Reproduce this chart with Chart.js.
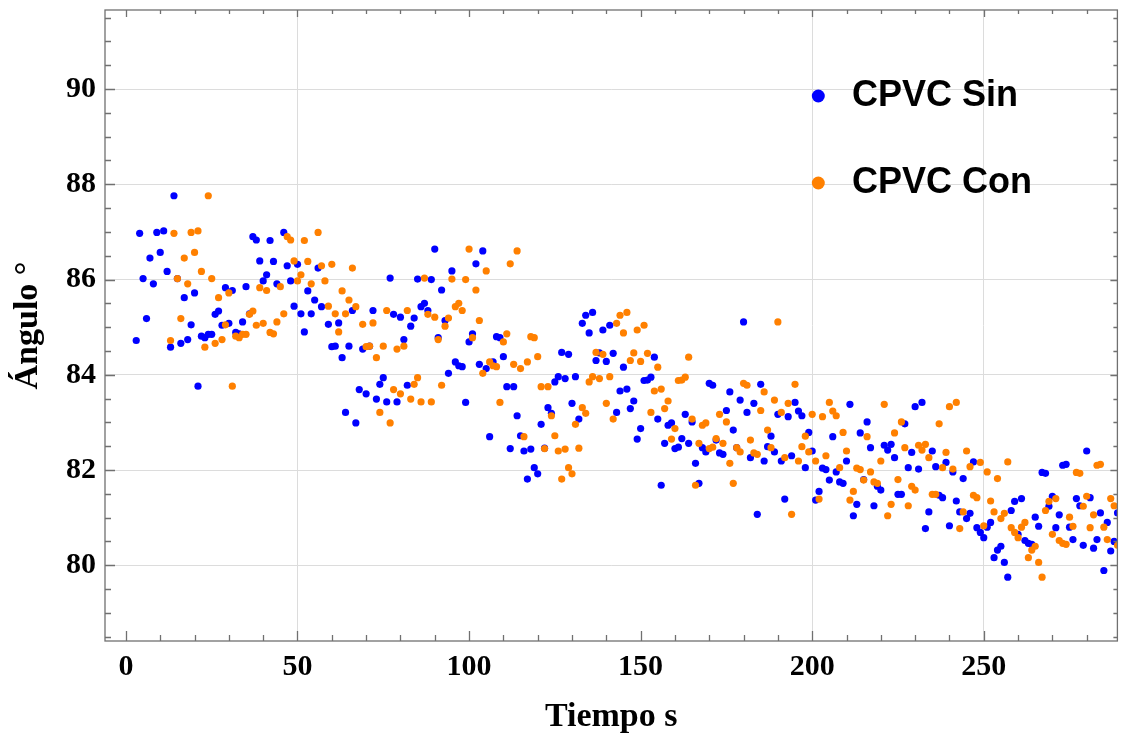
<!DOCTYPE html>
<html>
<head>
<meta charset="utf-8">
<script src="https://cdn.jsdelivr.net/npm/chart.js@4.4.1/dist/chart.umd.min.js"></script>
<style>
html,body{margin:0;padding:0;background:#ffffff;}
#wrap{width:1121px;height:736px;}
</style>
</head>
<body>
<div id="wrap"><canvas id="c" width="1121" height="736"></canvas></div>
<script>
// ---- data ----
const tiempo = [
  3,4,5,6,7,8,9,10,11,12,
  13,14,15,16,17,18,19,20,21,22,
  23,24,25,26,27,28,29,30,31,32,
  33,34,35,36,37,38,39,40,41,42,
  43,44,45,46,47,48,49,50,51,52,
  53,54,55,56,57,58,59,60,61,62,
  63,64,65,66,67,68,69,70,71,72,
  73,74,75,76,77,78,79,80,81,82,
  83,84,85,86,87,88,89,90,91,92,
  93,94,95,96,97,98,99,100,101,102,
  103,104,105,106,107,108,109,110,111,112,
  113,114,115,116,117,118,119,120,121,122,
  123,124,125,126,127,128,129,130,131,132,
  133,134,135,136,137,138,139,140,141,142,
  143,144,145,146,147,148,149,150,151,152,
  153,154,155,156,157,158,159,160,161,162,
  163,164,165,166,167,168,169,170,171,172,
  173,174,175,176,177,178,179,180,181,182,
  183,184,185,186,187,188,189,190,191,192,
  193,194,195,196,197,198,199,200,201,202,
  203,204,205,206,207,208,209,210,211,212,
  213,214,215,216,217,218,219,220,221,222,
  223,224,225,226,227,228,229,230,231,232,
  233,234,235,236,237,238,239,240,241,242,
  243,244,245,246,247,248,249,250,251,252,
  253,254,255,256,257,258,259,260,261,262,
  263,264,265,266,267,268,269,270,271,272,
  273,274,275,276,277,278,279,280,281,282,
  283,284,285,286,287,288,289,290
];

const anguloSin = [
  84.72,86.97,86.02,85.18,86.45,85.91,86.99,86.57,87.02,86.17,
  84.58,87.76,86.02,84.66,85.62,84.74,85.05,85.72,83.76,84.81,
  84.78,84.85,84.85,85.27,85.34,85.04,85.83,85.08,85.77,84.89,
  84.86,85.11,85.85,85.28,86.90,86.83,86.39,85.97,86.10,86.82,
  86.38,85.91,null,86.99,86.29,85.97,85.44,86.32,85.28,84.90,
  85.76,85.28,85.57,86.24,85.43,null,85.06,84.59,84.60,85.09,
  84.36,83.21,84.60,85.35,82.99,83.69,84.54,83.60,84.60,85.35,
  83.49,83.80,83.94,83.43,86.03,85.27,83.43,85.21,84.74,83.78,
  85.02,85.19,86.01,85.43,85.50,85.35,86.00,86.64,84.78,85.78,
  85.14,84.03,86.18,84.27,84.19,84.17,83.42,84.69,84.86,86.33,
  84.22,86.60,84.13,82.70,84.27,84.80,84.78,84.38,83.75,82.45,
  83.75,83.14,82.72,82.40,81.81,82.44,82.05,81.92,82.96,82.46,
  83.31,83.19,83.85,83.96,84.47,83.92,84.43,83.40,83.96,83.07,
  85.08,85.25,84.88,85.31,84.30,84.46,84.94,84.28,85.04,84.45,
  83.21,83.66,84.16,83.70,83.29,83.45,82.65,82.87,83.88,83.89,
  83.95,84.37,83.07,81.68,82.56,82.94,82.99,82.45,82.48,82.66,
  83.17,82.56,83.01,82.14,81.72,82.47,82.38,83.82,83.78,82.63,
  82.36,82.33,83.25,83.64,82.84,82.47,83.47,85.11,83.21,82.26,
  83.40,81.07,83.80,82.19,82.49,82.71,82.38,83.17,82.19,81.39,
  83.12,82.30,83.42,83.24,83.14,82.05,82.79,82.40,81.37,81.55,
  82.04,82.01,81.79,82.70,81.96,81.75,81.72,82.19,83.38,81.04,
  81.28,82.78,81.80,83.01,82.47,81.25,81.66,81.58,82.52,82.42,
  82.54,82.26,81.49,81.49,82.97,82.05,82.37,83.33,82.02,83.42,
  80.77,81.12,82.40,82.07,81.47,81.42,82.16,80.83,81.96,81.35,
  81.12,81.82,80.98,81.09,82.17,80.79,80.69,80.58,80.80,80.90,
  80.16,80.32,80.40,80.06,79.75,81.15,81.34,80.65,81.40,80.52,
  80.46,80.44,81.01,80.82,81.95,81.93,81.24,81.45,80.79,81.06,
  82.10,82.12,80.80,80.54,81.40,81.25,80.42,82.40,81.42,80.36,
  80.54,81.10,79.89,80.90,80.30,80.50,81.10,null
];

const anguloCon = [
  null,null,null,null,null,null,null,null,null,null,
  84.72,86.97,86.02,85.18,86.45,85.91,86.99,86.57,87.02,86.17,
  84.58,87.76,86.02,84.66,85.62,84.74,85.05,85.72,83.76,84.81,
  84.78,84.85,84.85,85.27,85.34,85.04,85.83,85.08,85.77,84.89,
  84.86,85.11,85.85,85.28,86.90,86.83,86.39,85.97,86.10,86.82,
  86.38,85.91,null,86.99,86.29,85.97,85.44,86.32,85.28,84.90,
  85.76,85.28,85.57,86.24,85.43,null,85.06,84.59,84.60,85.09,
  84.36,83.21,84.60,85.35,82.99,83.69,84.54,83.60,84.60,85.35,
  83.49,83.80,83.94,83.43,86.03,85.27,83.43,85.21,84.74,83.78,
  85.02,85.19,86.01,85.43,85.50,85.35,86.00,86.64,84.78,85.78,
  85.14,84.03,86.18,84.27,84.19,84.17,83.42,84.69,84.86,86.33,
  84.22,86.60,84.13,82.70,84.27,84.80,84.78,84.38,83.75,82.45,
  83.75,83.14,82.72,82.40,81.81,82.44,82.05,81.92,82.96,82.46,
  83.31,83.19,83.85,83.96,84.47,83.92,84.43,83.40,83.96,83.07,
  85.08,85.25,84.88,85.31,84.30,84.46,84.94,84.28,85.04,84.45,
  83.21,83.66,84.16,83.70,83.29,83.45,82.65,82.87,83.88,83.89,
  83.95,84.37,83.07,81.68,82.56,82.94,82.99,82.45,82.48,82.66,
  83.17,82.56,83.01,82.14,81.72,82.47,82.38,83.82,83.78,82.63,
  82.36,82.33,83.25,83.64,82.84,82.47,83.47,85.11,83.21,82.26,
  83.40,81.07,83.80,82.19,82.49,82.71,82.38,83.17,82.19,81.39,
  83.12,82.30,83.42,83.24,83.14,82.05,82.79,82.40,81.37,81.55,
  82.04,82.01,81.79,82.70,81.96,81.75,81.72,82.19,83.38,81.04,
  81.28,82.78,81.80,83.01,82.47,81.25,81.66,81.58,82.52,82.42,
  82.54,82.26,81.49,81.49,82.97,82.05,82.37,83.33,82.02,83.42,
  80.77,81.12,82.40,82.07,81.47,81.42,82.16,80.83,81.96,81.35,
  81.12,81.82,80.98,81.09,82.17,80.79,80.69,80.58,80.80,80.90,
  80.16,80.32,80.40,80.06,79.75,81.15,81.34,80.65,81.40,80.52,
  80.46,80.44,81.01,80.82,81.95,81.93,81.24,81.45,80.79,81.06,
  82.10,82.12,80.80,80.54,81.40,81.25,80.42,82.40
];

const xTickValues = [0, 50, 100, 150, 200, 250];
const yTickValues = [80, 82, 84, 86, 88, 90];
const xGridValues = [50, 200, 250];
const seriesNames = ['CPVC Sin', 'CPVC Con'];
const xTitle = 'Tiempo s';
const yTitle = 'Ángulo °';

// ---- styles ----
const BLUE = '#0000FF';
const ORANGE = '#FF8000';
const GRID = '#dcdcdc';
const FRAME = '#707070';
const SERIF = '"Liberation Serif", "DejaVu Serif", serif';
const tickFont = {family: SERIF, weight: 'bold', size: 30};
const titleFont = {family: SERIF, weight: 'bold', size: 34};

function toPoints(values) {
  const pts = [];
  for (let i = 0; i < tiempo.length; i++) {
    if (values[i] !== null && values[i] !== undefined) pts.push({x: tiempo[i], y: values[i]});
  }
  return pts;
}

const framePlugin = {
  id: 'frameTicks',
  afterDraw(chart) {
    const {ctx, chartArea: a, scales: {x, y}} = chart;
    ctx.save();
    ctx.strokeStyle = FRAME;
    ctx.lineWidth = 1.3;
    ctx.beginPath();
    for (let v = 0; v <= x.max; v += 10) {
      const px = Math.round(x.getPixelForValue(v)) + 0.5;
      const major = v % 50 === 0;
      const lb = major ? 10 : 6;
      const lt = major ? 7 : 4;
      ctx.moveTo(px, a.bottom); ctx.lineTo(px, a.bottom - lb);
      ctx.moveTo(px, a.top); ctx.lineTo(px, a.top + lt);
    }
    for (let v = 78.5; v <= y.max; v += 0.5) {
      const py = Math.round(y.getPixelForValue(v)) + 0.5;
      const major = Math.abs(v % 2) < 1e-6;
      const ll = major ? 10 : 6;
      const lr = major ? 7 : 4;
      ctx.moveTo(a.left, py); ctx.lineTo(a.left + ll, py);
      ctx.moveTo(a.right, py); ctx.lineTo(a.right - lr, py);
    }
    ctx.stroke();
    ctx.strokeRect(a.left, a.top, a.right - a.left, a.bottom - a.top);
    ctx.restore();
  }
};

const legendPlugin = {
  id: 'insideLegend',
  afterDraw(chart) {
    const {ctx} = chart;
    const items = [
      {name: seriesNames[0], color: BLUE, cy: 96, base: 105.7},
      {name: seriesNames[1], color: ORANGE, cy: 183, base: 193.3}
    ];
    ctx.save();
    items.forEach(it => {
      ctx.fillStyle = it.color;
      ctx.beginPath();
      ctx.arc(818.3, it.cy, 6.5, 0, Math.PI * 2);
      ctx.fill();
      ctx.fillStyle = '#000';
      ctx.font = 'bold 36px "Liberation Sans", Arial, sans-serif';
      ctx.textBaseline = 'alphabetic';
      ctx.textAlign = 'left';
      ctx.fillText(it.name, 852, it.base);
    });
    ctx.restore();
  }
};

new Chart(document.getElementById('c').getContext('2d'), {
  type: 'scatter',
  data: {
    datasets: [
      {label: seriesNames[0], data: toPoints(anguloSin), backgroundColor: BLUE, borderWidth: 0,
       pointRadius: 3.6, pointHoverRadius: 3.6, pointBorderWidth: 0, order: 2},
      {label: seriesNames[1], data: toPoints(anguloCon), backgroundColor: ORANGE, borderWidth: 0,
       pointRadius: 3.6, pointHoverRadius: 3.6, pointBorderWidth: 0, order: 1}
    ]
  },
  options: {
    responsive: false,
    animation: false,
    events: [],
    layout: {padding: {top: 10, right: 1, left: 0, bottom: 0}},
    plugins: {legend: {display: false}, tooltip: {enabled: false}},
    scales: {
      x: {
        type: 'linear', min: -6.1, max: 288.95,
        afterBuildTicks: s => { s.ticks = xTickValues.map(v => ({value: v})); },
        afterFit: s => { s.height = 95; s.paddingLeft = 0; s.paddingRight = 0; },
        border: {display: false},
        grid: {drawTicks: false, lineWidth: 1,
               color: c => (c.tick && xGridValues.includes(c.tick.value)) ? GRID : 'rgba(0,0,0,0)'},
        ticks: {padding: 8, font: tickFont, color: '#000', maxRotation: 0, autoSkip: false},
        title: {display: true, text: xTitle, color: '#000', font: titleFont, padding: {top: 0, bottom: -2}}
      },
      y: {
        type: 'linear', min: 78.41, max: 91.66,
        afterBuildTicks: s => { s.ticks = yTickValues.map(v => ({value: v})); },
        afterFit: s => { s.width = 105; s.paddingTop = 0; s.paddingBottom = 0; },
        border: {display: false},
        grid: {drawTicks: false, lineWidth: 1, color: GRID},
        ticks: {padding: 9, font: tickFont, color: '#000', autoSkip: false},
        title: {display: true, text: yTitle, color: '#000', font: titleFont, padding: {top: 8, bottom: 0}}
      }
    }
  },
  plugins: [framePlugin, legendPlugin]
});
</script>
</body>
</html>
